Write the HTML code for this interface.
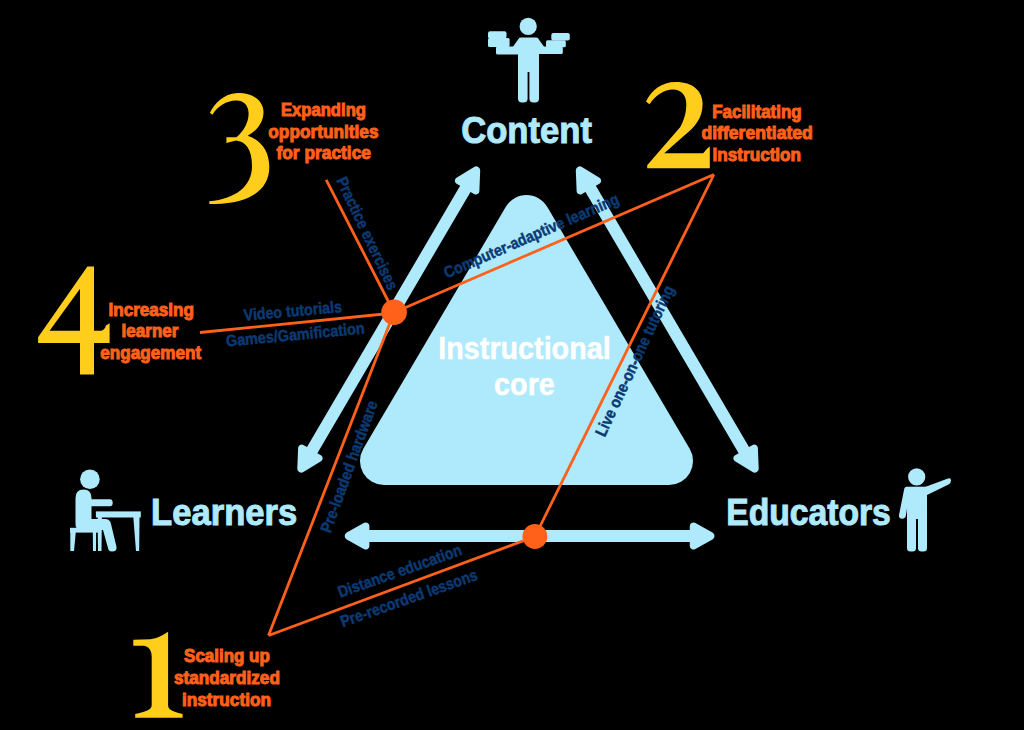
<!DOCTYPE html>
<html><head><meta charset="utf-8"><style>
html,body{margin:0;padding:0;background:#000;width:1024px;height:730px;overflow:hidden}
svg{display:block}
</style></head><body>
<svg width="1024" height="730" viewBox="0 0 1024 730">
<rect width="1024" height="730" fill="#000"/>
<path d="M383.99,485.00 A24,24 0 0 1 363.31,448.82 L505.82,206.82 A24,24 0 0 1 547.18,206.82 L689.69,448.82 A24,24 0 0 1 669.01,485.00 Z" fill="#aee9fc"/>
<path d="M480.20,170.49 A4.0,4.0 0 0 0 474.11,166.92 L456.50,177.74 A3.5,3.5 0 0 0 456.56,183.74 L460.15,185.85 L307.00,447.09 L303.40,444.98 A3.5,3.5 0 0 0 298.13,447.86 L297.30,468.51 A4.0,4.0 0 0 0 303.39,472.08 L321.00,461.26 A3.5,3.5 0 0 0 320.94,455.26 L317.35,453.15 L470.50,191.91 L474.10,194.02 A3.5,3.5 0 0 0 479.37,191.14 Z" fill="#aee9fc"/>
<path d="M581.89,166.92 A4.0,4.0 0 0 0 575.80,170.49 L576.63,191.14 A3.5,3.5 0 0 0 581.90,194.02 L585.50,191.91 L738.65,453.15 L735.06,455.26 A3.5,3.5 0 0 0 735.00,461.26 L752.61,472.08 A4.0,4.0 0 0 0 758.70,468.51 L757.87,447.86 A3.5,3.5 0 0 0 752.60,444.98 L749.00,447.09 L595.85,185.85 L599.44,183.74 A3.5,3.5 0 0 0 599.50,177.74 Z" fill="#aee9fc"/>
<path d="M346.75,532.50 A4.0,4.0 0 0 0 346.75,539.50 L364.21,549.14 A3.5,3.5 0 0 0 369.40,546.07 L369.40,542.00 L689.80,542.00 L689.80,546.07 A3.5,3.5 0 0 0 694.99,549.14 L712.45,539.50 A4.0,4.0 0 0 0 712.45,532.50 L694.99,522.86 A3.5,3.5 0 0 0 689.80,525.93 L689.80,530.00 L369.40,530.00 L369.40,525.93 A3.5,3.5 0 0 0 364.21,522.86 Z" fill="#aee9fc"/>
<text transform="translate(461.16,142.50) scale(0.9420,1)" font-family="Liberation Sans" font-weight="bold" font-size="36.8" fill="#aee9fc" stroke="#aee9fc" stroke-width="1.0">Content</text>
<text transform="translate(151.12,525.00) scale(0.9399,1)" font-family="Liberation Sans" font-weight="bold" font-size="36.8" fill="#aee9fc" stroke="#aee9fc" stroke-width="1.0">Learners</text>
<text transform="translate(726.17,525.00) scale(0.9153,1)" font-family="Liberation Sans" font-weight="bold" font-size="36.8" fill="#aee9fc" stroke="#aee9fc" stroke-width="1.0">Educators</text>
<text transform="translate(438.36,358.75) scale(0.9207,1)" font-family="Liberation Sans" font-weight="bold" font-size="31.2" fill="#fff" stroke="#fff" stroke-width="0.5">Instructional</text>
<text transform="translate(494.08,394.85) scale(0.9219,1)" font-family="Liberation Sans" font-weight="bold" font-size="31.2" fill="#fff" stroke="#fff" stroke-width="0.5">core</text>
<path d="M326.2,179.8 L394,312.5 M199.9,332.5 L394,313 M394,312.5 L713.9,174.5 M713.9,174.5 L535,536.5 M535,536.5 L268.5,635.5 M268.5,635.5 L394,312.5" stroke="#ff601a" stroke-width="2.8" stroke-linecap="butt" stroke-linejoin="miter" fill="none"/>
<circle cx="394.1" cy="312.3" r="12.8" fill="#ff601a"/>
<circle cx="534.9" cy="536.5" r="12.4" fill="#ff601a"/>
<text transform="translate(281.00,116.10) scale(0.9239,1)" font-family="Liberation Sans" font-weight="bold" font-size="18.0" fill="#ff601a" stroke="#ff601a" stroke-width="1.0">Expanding</text>
<text transform="translate(268.30,138.30) scale(0.9600,1)" font-family="Liberation Sans" font-weight="bold" font-size="18.0" fill="#ff601a" stroke="#ff601a" stroke-width="1.0">opportunities</text>
<text transform="translate(276.50,158.60) scale(0.9643,1)" font-family="Liberation Sans" font-weight="bold" font-size="18.0" fill="#ff601a" stroke="#ff601a" stroke-width="1.0">for practice</text>
<text transform="translate(712.20,118.00) scale(0.9421,1)" font-family="Liberation Sans" font-weight="bold" font-size="18.0" fill="#ff601a" stroke="#ff601a" stroke-width="1.0">Facilitating</text>
<text transform="translate(701.40,138.90) scale(0.9781,1)" font-family="Liberation Sans" font-weight="bold" font-size="18.0" fill="#ff601a" stroke="#ff601a" stroke-width="1.0">differentiated</text>
<text transform="translate(712.55,160.80) scale(0.9522,1)" font-family="Liberation Sans" font-weight="bold" font-size="18.0" fill="#ff601a" stroke="#ff601a" stroke-width="1.0">instruction</text>
<text transform="translate(108.50,316.20) scale(0.9500,1)" font-family="Liberation Sans" font-weight="bold" font-size="18.0" fill="#ff601a" stroke="#ff601a" stroke-width="1.0">Increasing</text>
<text transform="translate(121.55,336.70) scale(0.9483,1)" font-family="Liberation Sans" font-weight="bold" font-size="18.0" fill="#ff601a" stroke="#ff601a" stroke-width="1.0">learner</text>
<text transform="translate(100.30,359.00) scale(0.9523,1)" font-family="Liberation Sans" font-weight="bold" font-size="18.0" fill="#ff601a" stroke="#ff601a" stroke-width="1.0">engagement</text>
<text transform="translate(184.10,662.40) scale(0.9418,1)" font-family="Liberation Sans" font-weight="bold" font-size="18.0" fill="#ff601a" stroke="#ff601a" stroke-width="1.0">Scaling up</text>
<text transform="translate(174.00,683.90) scale(0.9550,1)" font-family="Liberation Sans" font-weight="bold" font-size="18.0" fill="#ff601a" stroke="#ff601a" stroke-width="1.0">standardized</text>
<text transform="translate(181.94,705.50) scale(0.9587,1)" font-family="Liberation Sans" font-weight="bold" font-size="18.0" fill="#ff601a" stroke="#ff601a" stroke-width="1.0">instruction</text>
<path d="M209.9,112.7 C214,104 224,93.5 237,93 C252,92.5 263.5,100 263.5,112 C263.5,122 257,131 247.7,135.7 C261,140 269.3,151 269.3,167 C269.3,189 251,203.5 215,204 L209.3,204 L209.3,201.2 C236,199 252,186 252,166 C252,150 246,141.5 236,140.6 L226.4,143.1 L226.4,137.3 L236.5,137.3 C244,131 248.6,122 248.6,113.5 C248.6,105 243,100.3 236,100.6 C226,101 218,106 212.4,114.8 Z" fill="#ffcd1b" fill-rule="evenodd"/>
<path d="M646,101.5 C652,90 661,82 676,82 C693,82 702.6,91 702.6,104 C702.6,118 695,127 684.3,135.5 L664.2,153.2 L703.1,153.2 C705,151.5 707,148 709.8,146.5 L709.8,168.3 L647.2,168.3 L647.2,165.3 L680.3,127 C684,120 686.3,113 686.3,104.2 C686.3,95 681,89.4 673,89.4 C664,89.4 656,95 649.4,104.2 Z" fill="#ffcd1b" fill-rule="evenodd"/>
<path d="M87.4,266.4 L94,266.4 L94,330.7 L101.4,330.7 Q105,329.5 106,325.5 L109.6,323.3 L109.6,343 L94,343 L94,374.6 L80,374.6 L80,343 L38.1,343 L38.1,337.3 Z M49.6,330.7 L80,330.7 L80,288.8 Z" fill="#ffcd1b" fill-rule="evenodd"/>
<path d="M133.3,639.8 L133.3,645.7 L143.8,645.7 C148,646 151.7,650 151.7,656.2 L151.7,704.9 C151.7,709 148,711 135.2,714.1 L135.2,717.8 L182.6,717.8 L182.6,714.1 C171,711 168.1,709 168.1,704.9 L168.1,631.7 C163,635 157,638.5 150.4,639.2 Z" fill="#ffcd1b" fill-rule="evenodd"/>
<text transform="translate(336.30,181.00) rotate(64.61) scale(0.8697,1) translate(-1,0)" font-family="Liberation Sans" font-weight="bold" font-size="16.2" fill="#0b3a73" stroke="#0b3a73" stroke-width="0.5">Practice exercises</text>
<text transform="translate(244.20,320.80) rotate(-5.13) scale(0.8785,1) translate(0,0)" font-family="Liberation Sans" font-weight="bold" font-size="16.2" fill="#0b3a73" stroke="#0b3a73" stroke-width="0.5">Video tutorials</text>
<text transform="translate(226.50,346.60) rotate(-5.42) scale(0.8892,1) translate(0,0)" font-family="Liberation Sans" font-weight="bold" font-size="16.2" fill="#0b3a73" stroke="#0b3a73" stroke-width="0.5">Games/Gamification</text>
<text transform="translate(446.80,278.50) rotate(-23.50) scale(0.8800,1) translate(0,0)" font-family="Liberation Sans" font-weight="bold" font-size="16.2" fill="#0b3a73" stroke="#0b3a73" stroke-width="0.5">Computer-adaptive learning</text>
<text transform="translate(605.00,437.00) rotate(-64.88) scale(0.8637,1) translate(-1,0)" font-family="Liberation Sans" font-weight="bold" font-size="16.2" fill="#0b3a73" stroke="#0b3a73" stroke-width="0.5">Live one-on-one tutoring</text>
<text transform="translate(330.80,532.90) rotate(-70.03) scale(0.8673,1) translate(-1,0)" font-family="Liberation Sans" font-weight="bold" font-size="16.2" fill="#0b3a73" stroke="#0b3a73" stroke-width="0.5">Pre-loaded hardware</text>
<text transform="translate(341.00,597.50) rotate(-19.45) scale(0.8765,1) translate(-1,0)" font-family="Liberation Sans" font-weight="bold" font-size="16.2" fill="#0b3a73" stroke="#0b3a73" stroke-width="0.5">Distance education</text>
<text transform="translate(343.50,627.00) rotate(-19.42) scale(0.8709,1) translate(-1,0)" font-family="Liberation Sans" font-weight="bold" font-size="16.2" fill="#0b3a73" stroke="#0b3a73" stroke-width="0.5">Pre-recorded lessons</text>
<g fill="#aee9fc">
 <circle cx="528.2" cy="26.4" r="8.6"/>
 <path d="M520.5,37.4 H536.3 Q537.3,37.4 538,38.3 L544.2,47 H512.8 L519,38.3 Q519.6,37.4 520.5,37.4 Z"/>
 <rect x="518" y="45" width="21" height="27"/>
 <rect x="518" y="60" width="9.6" height="42.6" rx="4"/>
 <rect x="529.4" y="60" width="9.6" height="42.6" rx="4"/>
 <rect x="496" y="46.6" width="23" height="7.9" rx="1.5"/>
 <rect x="488" y="38.1" width="21.6" height="9" rx="1.5"/>
 <rect x="488" y="31.3" width="18.5" height="7.5" rx="2"/>
 <rect x="538" y="46.6" width="24.8" height="7.3" rx="1.5"/>
 <rect x="546" y="40.3" width="19.8" height="7" rx="1.5"/>
 <rect x="551.3" y="33" width="18.5" height="7.6" rx="2"/>
</g>
<g fill="#aee9fc">
 <circle cx="89.9" cy="479.2" r="9.8"/>
 <path d="M75.5,498 Q75.5,489.5 83.5,489.5 Q91.5,489.5 91.5,498 V527 Q91.5,530 88,530 H81 Q75.5,530 75.5,524 Z"/>
 <path d="M88,499.2 H110 Q112.7,499.2 112.7,502.7 Q112.7,506.3 110,506.3 H88 Z"/>
 <path d="M80,519 H105 Q110,519 111,524 L116.5,547 Q117,551.5 112,551.5 Q108.5,551.5 108,548 L103,530 H80 Z"/>
 <rect x="95.9" y="511.4" width="44.9" height="6.1"/>
 <path d="M133.3,517 H139.5 L139.2,551 H136 Z"/>
 <path d="M97.6,517 H101.9 L101.5,551 H98 Z"/>
 <rect x="70" y="527.8" width="28.4" height="4.8"/>
 <path d="M70.3,532 H75.8 L74,551 H70.3 Z"/>
 <path d="M92.8,532 H96.1 L96,551 H93 Z"/>
</g>
<g fill="#aee9fc">
 <circle cx="916.7" cy="476.9" r="8.6"/>
 <path d="M907,486.7 H927 V519 H907 Z"/>
 <path d="M907,486.7 Q904.4,486.7 904,490 L899,515 Q898.5,518.8 902.2,518.8 Q905.5,518.8 906,515 L910,490 Z"/>
 <path d="M925,487 L948,478.5 Q951,477.5 951,480.5 Q951,483.5 948.5,484.5 L927,495 Z"/>
 <rect x="907" y="510" width="9" height="41.5" rx="3.5"/>
 <rect x="918" y="510" width="9" height="41.5" rx="3.5"/>
</g>
</svg>
</body></html>
